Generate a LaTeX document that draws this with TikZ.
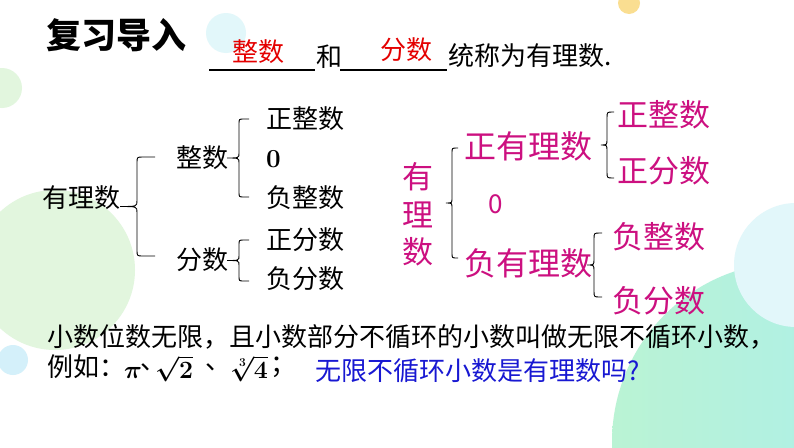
\documentclass[tikz,border=0pt]{standalone}
\usepackage{fontspec}
\newfontfamily\cjk{Noto Sans CJK SC}
\definecolor{magC}{RGB}{204,16,128}
\definecolor{redC}{RGB}{228,0,0}
\definecolor{blueC}{RGB}{24,24,210}
\definecolor{greenBg}{RGB}{226,246,222}
\definecolor{cyanBg}{RGB}{226,247,250}
\definecolor{cyanSm}{RGB}{212,240,250}
\definecolor{yellowBg}{RGB}{250,222,145}
\definecolor{mintA}{RGB}{186,243,212}
\definecolor{mintB}{RGB}{168,238,240}
% brace: #1 x of spine, #2 top y, #3 bottom y, #4 x of tip, #5 x of arm ends, #6 radius
\newcommand{\mybrace}[6]{%
  \pgfmathsetmacro\mbym{(#2+#3)/2}%
  \draw[bracestyle] (#5,#2) -- ({#1+#6},#2) .. controls (#1,#2) .. (#1,{#2+#6})
    -- (#1,{\mbym-#6}) .. controls (#1,\mbym) .. (#4,\mbym)
    .. controls (#1,\mbym) .. (#1,{\mbym+#6}) -- (#1,{#3-#6})
    .. controls (#1,#3) .. ({#1+#6},#3) -- (#5,#3);%
}
\newcommand{\mypi}{\smash{\boldmath$\pi$}}
\newcommand{\myrtwo}{\smash{\boldmath$\sqrt{2}$}}
\newcommand{\myrfour}{\smash{\boldmath$\sqrt[3]{4}$}}
\begin{document}
\begin{tikzpicture}[x=1pt,y=-1pt,
  bracestyle/.style={draw=black,line width=0.9pt},
  txt/.style={inner sep=0pt,anchor=west},
  blk/.style={txt,font=\cjk\fontsize{26}{30}\selectfont,text=black},
  mth/.style={txt,font=\fontsize{25}{30}\selectfont,text=black},
  magbig/.style={txt,font=\cjk\fontsize{32}{36}\selectfont,text=magC},
  magleaf/.style={txt,font=\cjk\fontsize{31}{35}\selectfont,text=magC},
  rd/.style={txt,font=\cjk\fontsize{26}{30}\selectfont,text=redC},
  ul/.style={line width=1.1pt,black}]
\useasboundingbox (0,0) rectangle (794,447);
\fill[white] (0,0) rectangle (794,447);
% background circles
\begin{scope}
\clip (0,0) rectangle (794,447);
\fill[greenBg] (55,270) circle (80);
\fill[greenBg] (2,88) circle (20);
\fill[cyanSm] (13,360) circle (15);
\fill[cyanBg] (226,33) circle (20);
\fill[yellowBg] (629,3) circle (11);
\shade[left color=mintA,right color=mintB] (792,442) circle (180);
\fill[cyanBg] (796,265) circle (62);
\end{scope}
% title
\node[txt,font=\cjk\bfseries\fontsize{35}{40}\selectfont] (title) at (46,35) {复习导入};
% fill-in line
\coordinate (u1a) at (209,70); \coordinate (u1b) at (315,70);
\coordinate (u2a) at (340,70); \coordinate (u2b) at (447,70);
\draw[ul] (u1a) -- (u1b);
\draw[ul] (u2a) -- (u2b);
\node[rd] (ans1) at (232,52) {整数};
\node[rd] (ans2) at (380,50) {分数};
\node[blk] (he) at (316,57) {和};
\node[blk] (tc) at (448,56) {统称为有理数.};
% left tree
\node[blk] (L0) at (42,198) {有理数};
\node[blk] (Lz) at (176,158) {整数};
\node[blk] (Lf) at (176,260) {分数};
\node[blk] (Lzp) at (266,119) {正整数};
\node[txt,font=\bfseries\fontsize{26}{30}\selectfont] (Lzz) at (266,159) {0};
\node[blk] (Lzn) at (266,198) {负整数};
\node[blk] (Lfp) at (266,240) {正分数};
\node[blk] (Lfn) at (266,279) {负分数};
\mybrace{137}{157}{256}{120}{155}{6}
\mybrace{239}{119}{197}{227}{249}{5}
\mybrace{239}{240}{281}{227}{249}{5}
% right tree
\node[txt,font=\cjk\fontsize{31}{35}\selectfont,text=magC] (R0a) at (402,177) {有};
\node[txt,font=\cjk\fontsize{31}{35}\selectfont,text=magC] (R0b) at (402,215) {理};
\node[txt,font=\cjk\fontsize{31}{35}\selectfont,text=magC] (R0c) at (402,252) {数};
\node[magbig] (Rp) at (464,146) {正有理数};
\node[txt,font=\cjk\fontsize{26}{30}\selectfont,text=magC] (Rz) at (488,204) {0};
\node[magbig] (Rn) at (464,263) {负有理数};
\node[magleaf] (Rpz) at (617,115) {正整数};
\node[magleaf] (Rpf) at (617,171) {正分数};
\node[magleaf] (Rnz) at (612,237) {负整数};
\node[magleaf] (Rnf) at (612,301) {负分数};
\mybrace{452}{148}{258}{446}{458}{5}
\mybrace{607}{112}{178}{601}{614}{6}
\mybrace{594}{233}{297}{587}{602}{6}
% bottom text
\node[blk] (b1) at (47,337) {小数位数无限，且小数部分不循环的小数叫做无限不循环小数，};
\node[blk] (b2a) at (47,367) {例如：};
\node[mth] (b2b) at (124,378) {\mypi};
\node[blk] (b2c) at (140,367) {、};
\node[mth] (b2d) at (155,378) {\myrtwo};
\node[blk] (b2e) at (205,367) {、};
\node[mth] (b2f) at (231,378) {\myrfour};
\node[blk] (b2g) at (270,367) {；};
\node[txt,font=\cjk\fontsize{26}{30}\selectfont,text=blueC] (b3) at (315,371) {无限不循环小数是有理数吗?};
\end{tikzpicture}
\end{document}
